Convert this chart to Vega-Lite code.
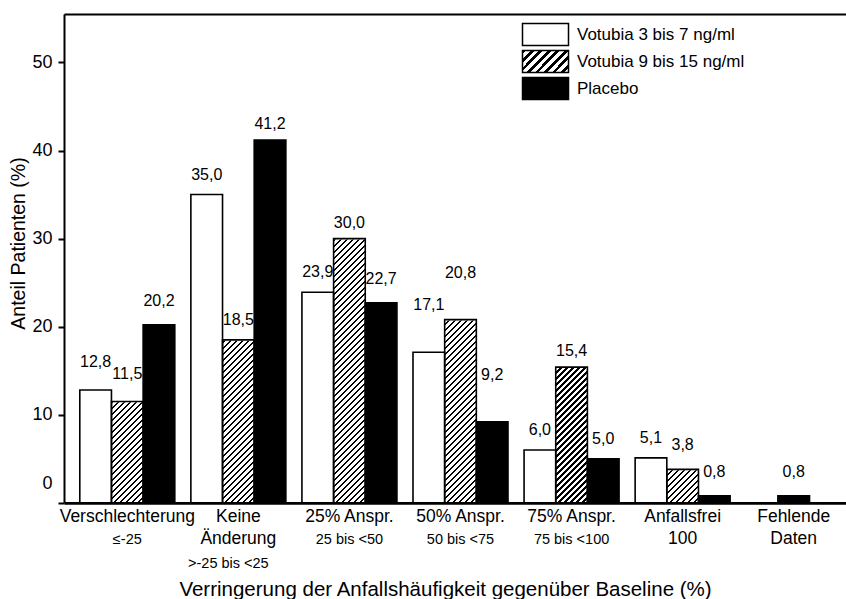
{
  "$schema": "https://vega.github.io/schema/vega-lite/v6.json",
  "width": 782,
  "height": 488.8,
  "autosize": "none",
  "padding": {"left": 64, "top": 14, "right": 0, "bottom": 96.2},
  "background": "white",
  "config": {
    "view": {"stroke": null},
    "locale": {"number": {"decimal": ",", "thousands": ".", "grouping": [3], "currency": ["", " €"]}},
    "axis": {"labelFont": "Liberation Sans", "titleFont": "Liberation Sans", "labelColor": "black", "titleColor": "black", "domainColor": "black", "tickColor": "black", "grid": false},
    "legend": {"labelFont": "Liberation Sans", "labelColor": "black"}
  },
  "data": {"values": [
    {"cat": "Verschlechterung", "series": "Votubia 3 bis 7 ng/ml", "value": 12.8},
    {"cat": "Verschlechterung", "series": "Votubia 9 bis 15 ng/ml", "value": 11.5},
    {"cat": "Verschlechterung", "series": "Placebo", "value": 20.2},
    {"cat": "Keine Änderung", "series": "Votubia 3 bis 7 ng/ml", "value": 35.0},
    {"cat": "Keine Änderung", "series": "Votubia 9 bis 15 ng/ml", "value": 18.5},
    {"cat": "Keine Änderung", "series": "Placebo", "value": 41.2},
    {"cat": "25% Anspr.", "series": "Votubia 3 bis 7 ng/ml", "value": 23.9},
    {"cat": "25% Anspr.", "series": "Votubia 9 bis 15 ng/ml", "value": 30.0},
    {"cat": "25% Anspr.", "series": "Placebo", "value": 22.7},
    {"cat": "50% Anspr.", "series": "Votubia 3 bis 7 ng/ml", "value": 17.1},
    {"cat": "50% Anspr.", "series": "Votubia 9 bis 15 ng/ml", "value": 20.8},
    {"cat": "50% Anspr.", "series": "Placebo", "value": 9.2},
    {"cat": "75% Anspr.", "series": "Votubia 3 bis 7 ng/ml", "value": 6.0},
    {"cat": "75% Anspr.", "series": "Votubia 9 bis 15 ng/ml", "value": 15.4},
    {"cat": "75% Anspr.", "series": "Placebo", "value": 5.0},
    {"cat": "Anfallsfrei 100", "series": "Votubia 3 bis 7 ng/ml", "value": 5.1},
    {"cat": "Anfallsfrei 100", "series": "Votubia 9 bis 15 ng/ml", "value": 3.8},
    {"cat": "Anfallsfrei 100", "series": "Placebo", "value": 0.8},
    {"cat": "Fehlende Daten", "series": "Placebo", "value": 0.8}
  ]},
  "resolve": {"scale": {"x": "shared", "y": "shared"}, "axis": {"x": "independent", "y": "independent"}},
  "encoding": {
    "x": {"field": "cat", "type": "nominal", "scale": {"domain": ["Verschlechterung", "Keine Änderung", "25% Anspr.", "50% Anspr.", "75% Anspr.", "Anfallsfrei 100", "Fehlende Daten"], "paddingInner": 0.1447, "paddingOuter": 0.0927, "align": 0.767}, "axis": null},
    "y": {"field": "value", "type": "quantitative", "scale": {"domain": [0, 55.5], "nice": false, "zero": true}, "axis": null}
  },
  "layer": [
    {
      "transform": [{"filter": "datum.series === 'Votubia 9 bis 15 ng/ml'"}],
      "mark": {"type": "bar", "strokeWidth": 0, "fill": {"gradient": "linear", "x1": 0, "y1": 0, "x2": 0.12987, "y2": 1.1016, "stops": [
        {"offset":0,"color":"#000"},{"offset":0.007,"color":"#000"},{"offset":0.007,"color":"#fff"},{"offset":0.02,"color":"#fff"},
        {"offset":0.02,"color":"#000"},{"offset":0.027,"color":"#000"},{"offset":0.027,"color":"#fff"},{"offset":0.04,"color":"#fff"},
        {"offset":0.04,"color":"#000"},{"offset":0.047,"color":"#000"},{"offset":0.047,"color":"#fff"},{"offset":0.06,"color":"#fff"},
        {"offset":0.06,"color":"#000"},{"offset":0.067,"color":"#000"},{"offset":0.067,"color":"#fff"},{"offset":0.08,"color":"#fff"},
        {"offset":0.08,"color":"#000"},{"offset":0.087,"color":"#000"},{"offset":0.087,"color":"#fff"},{"offset":0.1,"color":"#fff"},
        {"offset":0.1,"color":"#000"},{"offset":0.107,"color":"#000"},{"offset":0.107,"color":"#fff"},{"offset":0.12,"color":"#fff"},
        {"offset":0.12,"color":"#000"},{"offset":0.127,"color":"#000"},{"offset":0.127,"color":"#fff"},{"offset":0.14,"color":"#fff"},
        {"offset":0.14,"color":"#000"},{"offset":0.147,"color":"#000"},{"offset":0.147,"color":"#fff"},{"offset":0.16,"color":"#fff"},
        {"offset":0.16,"color":"#000"},{"offset":0.167,"color":"#000"},{"offset":0.167,"color":"#fff"},{"offset":0.18,"color":"#fff"},
        {"offset":0.18,"color":"#000"},{"offset":0.187,"color":"#000"},{"offset":0.187,"color":"#fff"},{"offset":0.2,"color":"#fff"},
        {"offset":0.2,"color":"#000"},{"offset":0.207,"color":"#000"},{"offset":0.207,"color":"#fff"},{"offset":0.22,"color":"#fff"},
        {"offset":0.22,"color":"#000"},{"offset":0.227,"color":"#000"},{"offset":0.227,"color":"#fff"},{"offset":0.24,"color":"#fff"},
        {"offset":0.24,"color":"#000"},{"offset":0.247,"color":"#000"},{"offset":0.247,"color":"#fff"},{"offset":0.26,"color":"#fff"},
        {"offset":0.26,"color":"#000"},{"offset":0.267,"color":"#000"},{"offset":0.267,"color":"#fff"},{"offset":0.28,"color":"#fff"},
        {"offset":0.28,"color":"#000"},{"offset":0.287,"color":"#000"},{"offset":0.287,"color":"#fff"},{"offset":0.3,"color":"#fff"},
        {"offset":0.3,"color":"#000"},{"offset":0.307,"color":"#000"},{"offset":0.307,"color":"#fff"},{"offset":0.32,"color":"#fff"},
        {"offset":0.32,"color":"#000"},{"offset":0.327,"color":"#000"},{"offset":0.327,"color":"#fff"},{"offset":0.34,"color":"#fff"},
        {"offset":0.34,"color":"#000"},{"offset":0.347,"color":"#000"},{"offset":0.347,"color":"#fff"},{"offset":0.36,"color":"#fff"},
        {"offset":0.36,"color":"#000"},{"offset":0.367,"color":"#000"},{"offset":0.367,"color":"#fff"},{"offset":0.38,"color":"#fff"},
        {"offset":0.38,"color":"#000"},{"offset":0.387,"color":"#000"},{"offset":0.387,"color":"#fff"},{"offset":0.4,"color":"#fff"},
        {"offset":0.4,"color":"#000"},{"offset":0.407,"color":"#000"},{"offset":0.407,"color":"#fff"},{"offset":0.42,"color":"#fff"},
        {"offset":0.42,"color":"#000"},{"offset":0.427,"color":"#000"},{"offset":0.427,"color":"#fff"},{"offset":0.44,"color":"#fff"},
        {"offset":0.44,"color":"#000"},{"offset":0.447,"color":"#000"},{"offset":0.447,"color":"#fff"},{"offset":0.46,"color":"#fff"},
        {"offset":0.46,"color":"#000"},{"offset":0.467,"color":"#000"},{"offset":0.467,"color":"#fff"},{"offset":0.48,"color":"#fff"},
        {"offset":0.48,"color":"#000"},{"offset":0.487,"color":"#000"},{"offset":0.487,"color":"#fff"},{"offset":0.5,"color":"#fff"},
        {"offset":0.5,"color":"#000"},{"offset":0.507,"color":"#000"},{"offset":0.507,"color":"#fff"},{"offset":0.52,"color":"#fff"},
        {"offset":0.52,"color":"#000"},{"offset":0.527,"color":"#000"},{"offset":0.527,"color":"#fff"},{"offset":0.54,"color":"#fff"},
        {"offset":0.54,"color":"#000"},{"offset":0.547,"color":"#000"},{"offset":0.547,"color":"#fff"},{"offset":0.56,"color":"#fff"},
        {"offset":0.56,"color":"#000"},{"offset":0.567,"color":"#000"},{"offset":0.567,"color":"#fff"},{"offset":0.58,"color":"#fff"},
        {"offset":0.58,"color":"#000"},{"offset":0.587,"color":"#000"},{"offset":0.587,"color":"#fff"},{"offset":0.6,"color":"#fff"},
        {"offset":0.6,"color":"#000"},{"offset":0.607,"color":"#000"},{"offset":0.607,"color":"#fff"},{"offset":0.62,"color":"#fff"},
        {"offset":0.62,"color":"#000"},{"offset":0.627,"color":"#000"},{"offset":0.627,"color":"#fff"},{"offset":0.64,"color":"#fff"},
        {"offset":0.64,"color":"#000"},{"offset":0.647,"color":"#000"},{"offset":0.647,"color":"#fff"},{"offset":0.66,"color":"#fff"},
        {"offset":0.66,"color":"#000"},{"offset":0.667,"color":"#000"},{"offset":0.667,"color":"#fff"},{"offset":0.68,"color":"#fff"},
        {"offset":0.68,"color":"#000"},{"offset":0.687,"color":"#000"},{"offset":0.687,"color":"#fff"},{"offset":0.7,"color":"#fff"},
        {"offset":0.7,"color":"#000"},{"offset":0.707,"color":"#000"},{"offset":0.707,"color":"#fff"},{"offset":0.72,"color":"#fff"},
        {"offset":0.72,"color":"#000"},{"offset":0.727,"color":"#000"},{"offset":0.727,"color":"#fff"},{"offset":0.74,"color":"#fff"},
        {"offset":0.74,"color":"#000"},{"offset":0.747,"color":"#000"},{"offset":0.747,"color":"#fff"},{"offset":0.76,"color":"#fff"},
        {"offset":0.76,"color":"#000"},{"offset":0.767,"color":"#000"},{"offset":0.767,"color":"#fff"},{"offset":0.78,"color":"#fff"},
        {"offset":0.78,"color":"#000"},{"offset":0.787,"color":"#000"},{"offset":0.787,"color":"#fff"},{"offset":0.8,"color":"#fff"},
        {"offset":0.8,"color":"#000"},{"offset":0.807,"color":"#000"},{"offset":0.807,"color":"#fff"},{"offset":0.82,"color":"#fff"},
        {"offset":0.82,"color":"#000"},{"offset":0.827,"color":"#000"},{"offset":0.827,"color":"#fff"},{"offset":0.84,"color":"#fff"},
        {"offset":0.84,"color":"#000"},{"offset":0.847,"color":"#000"},{"offset":0.847,"color":"#fff"},{"offset":0.86,"color":"#fff"},
        {"offset":0.86,"color":"#000"},{"offset":0.867,"color":"#000"},{"offset":0.867,"color":"#fff"},{"offset":0.88,"color":"#fff"},
        {"offset":0.88,"color":"#000"},{"offset":0.887,"color":"#000"},{"offset":0.887,"color":"#fff"},{"offset":0.9,"color":"#fff"},
        {"offset":0.9,"color":"#000"},{"offset":0.907,"color":"#000"},{"offset":0.907,"color":"#fff"},{"offset":0.92,"color":"#fff"},
        {"offset":0.92,"color":"#000"},{"offset":0.927,"color":"#000"},{"offset":0.927,"color":"#fff"},{"offset":0.94,"color":"#fff"},
        {"offset":0.94,"color":"#000"},{"offset":0.947,"color":"#000"},{"offset":0.947,"color":"#fff"},{"offset":0.96,"color":"#fff"},
        {"offset":0.96,"color":"#000"},{"offset":0.967,"color":"#000"},{"offset":0.967,"color":"#fff"},{"offset":0.98,"color":"#fff"},
        {"offset":0.98,"color":"#000"},{"offset":0.987,"color":"#000"},{"offset":0.987,"color":"#fff"},{"offset":1,"color":"#fff"}
      ]}},
      "encoding": {
        "x": {"field": "cat", "type": "nominal", "axis": {"orient": "bottom", "title": null, "domain": false, "ticks": false, "tickSize": 0, "labelAngle": 0, "labelOverlap": false, "labelLimit": 300, "labelFontSize": 14.5,
          "labelExpr": "datum.value === 'Verschlechterung' ? '≤-25' : datum.value === 'Keine Änderung' ? '>-25 bis <25' : datum.value === '25% Anspr.' ? '25 bis <50' : datum.value === '50% Anspr.' ? '50 bis <75' : datum.value === '75% Anspr.' ? '75 bis <100' : ''",
          "labelPadding": {"condition": {"test": "datum.value === 'Keine Änderung'", "value": 54}, "value": 29.5},
          "labelOffset": {"condition": {"test": "datum.value === 'Keine Änderung'", "value": -10}, "value": 0}}},
        "xOffset": {"field": "series", "type": "nominal", "scale": {"domain": ["Votubia 3 bis 7 ng/ml", "Votubia 9 bis 15 ng/ml", "Placebo"], "paddingInner": 0, "paddingOuter": 0}},
        "y": {"datum": 30.5, "type": "quantitative", "scale": {"domain": [0, 55.5], "nice": false, "zero": true}, "axis": null},
        "y2": {"datum": 0}
      }
    },
    {
      "transform": [{"filter": "datum.series === 'Votubia 9 bis 15 ng/ml'"}],
      "mark": {"type": "bar", "fill": "white", "stroke": "white", "strokeWidth": 1.6},
      "encoding": {
        "x": {"field": "cat", "type": "nominal", "axis": {"orient": "top", "title": null, "labels": false, "ticks": false, "domain": true, "domainWidth": 2, "domainColor": "black"}},
        "xOffset": {"field": "series", "type": "nominal", "scale": {"domain": ["Votubia 3 bis 7 ng/ml", "Votubia 9 bis 15 ng/ml", "Placebo"], "paddingInner": 0, "paddingOuter": 0}},
        "y2": {"datum": 30.5}
      }
    },
    {
      "transform": [{"filter": "datum.cat !== 'Fehlende Daten'"}],
      "mark": {"type": "bar", "stroke": "black", "strokeWidth": 1.6},
      "encoding": {
        "x": {"field": "cat", "type": "nominal", "axis": {"orient": "bottom", "domain": true, "domainWidth": 2.7, "ticks": false, "tickSize": 0, "labelAngle": 0, "labelOverlap": false, "labelLimit": 300, "labelFontSize": 17.5, "labelLineHeight": 21.6, "labelPadding": 5,
          "labelExpr": "datum.value === 'Keine Änderung' ? ['Keine', 'Änderung'] : datum.value === 'Anfallsfrei 100' ? ['Anfallsfrei', '100'] : datum.value === 'Fehlende Daten' ? ['Fehlende', 'Daten'] : datum.value",
          "title": "Verringerung der Anfallshäufigkeit gegenüber Baseline (%)", "titleFontSize": 20.5, "titleFontWeight": "normal", "titleX": 381, "titleY": 93, "titleBaseline": "alphabetic"}},
        "xOffset": {"field": "series", "type": "nominal", "scale": {"domain": ["Votubia 3 bis 7 ng/ml", "Votubia 9 bis 15 ng/ml", "Placebo"], "paddingInner": 0, "paddingOuter": 0}},
        "y": {"field": "value", "type": "quantitative", "scale": {"domain": [0, 55.5], "nice": false, "zero": true},
          "axis": {"values": [0, 10, 20, 30, 40, 50], "title": "Anteil Patienten (%)", "titleFontSize": 19.5, "titleFontWeight": "normal", "titleX": -40, "titleY": 229, "titleBaseline": "alphabetic", "titleAngle": -90, "titleAlign": "center", "titleLimit": 400,
            "labelFontSize": 18, "labelPadding": 6, "tickSize": 6, "tickWidth": 2, "domainWidth": 2, "grid": false,
            "labelOffset": {"condition": {"test": "datum.value === 0", "value": -19}, "value": 0}}},
        "fill": {"condition": [
          {"test": "datum.series === 'Placebo'", "value": "black"},
          {"test": "datum.series === 'Votubia 9 bis 15 ng/ml'", "value": "transparent"}
        ], "value": "white"}
      }
    },
    {
      "transform": [{"filter": "datum.cat === 'Fehlende Daten'"}],
      "mark": {"type": "bar", "width": {"band": 0.3333}, "fill": "black", "stroke": "black", "strokeWidth": 1.6}
    },
    {
      "transform": [{"filter": "indexof([41.2, 30, 15.4], datum.value) >= 0"}],
      "mark": {"type": "text", "font": "Liberation Sans", "fontSize": 16, "baseline": "middle", "dy": -16, "color": "black"},
      "encoding": {
        "xOffset": {"field": "series", "type": "nominal", "scale": {"domain": ["Votubia 3 bis 7 ng/ml", "Votubia 9 bis 15 ng/ml", "Placebo"], "paddingInner": 0, "paddingOuter": 0}},
        "text": {"field": "value", "type": "quantitative", "format": ".1f"}
      }
    },
    {
      "transform": [{"filter": "indexof([35, 18.5, 23.9, 6, 5, 5.1], datum.value) >= 0"}],
      "mark": {"type": "text", "font": "Liberation Sans", "fontSize": 16, "baseline": "middle", "dy": -20, "color": "black"},
      "encoding": {
        "xOffset": {"field": "series", "type": "nominal", "scale": {"domain": ["Votubia 3 bis 7 ng/ml", "Votubia 9 bis 15 ng/ml", "Placebo"], "paddingInner": 0, "paddingOuter": 0}},
        "text": {"field": "value", "type": "quantitative", "format": ".1f"}
      }
    },
    {
      "transform": [{"filter": "indexof([22.7, 3.8, 20.2, 0.8], datum.value) >= 0 && datum.cat !== 'Fehlende Daten'"}],
      "mark": {"type": "text", "font": "Liberation Sans", "fontSize": 16, "baseline": "middle", "dy": -24, "color": "black"},
      "encoding": {
        "xOffset": {"field": "series", "type": "nominal", "scale": {"domain": ["Votubia 3 bis 7 ng/ml", "Votubia 9 bis 15 ng/ml", "Placebo"], "paddingInner": 0, "paddingOuter": 0}},
        "text": {"field": "value", "type": "quantitative", "format": ".1f"}
      }
    },
    {
      "transform": [{"filter": "indexof([12.8, 11.5], datum.value) >= 0"}],
      "mark": {"type": "text", "font": "Liberation Sans", "fontSize": 16, "baseline": "middle", "dy": -28, "color": "black"},
      "encoding": {
        "xOffset": {"field": "series", "type": "nominal", "scale": {"domain": ["Votubia 3 bis 7 ng/ml", "Votubia 9 bis 15 ng/ml", "Placebo"], "paddingInner": 0, "paddingOuter": 0}},
        "text": {"field": "value", "type": "quantitative", "format": ".1f"}
      }
    },
    {
      "transform": [{"filter": "indexof([17.1, 20.8, 9.2], datum.value) >= 0"}],
      "mark": {"type": "text", "font": "Liberation Sans", "fontSize": 16, "baseline": "middle", "dy": -47, "color": "black"},
      "encoding": {
        "xOffset": {"field": "series", "type": "nominal", "scale": {"domain": ["Votubia 3 bis 7 ng/ml", "Votubia 9 bis 15 ng/ml", "Placebo"], "paddingInner": 0, "paddingOuter": 0}},
        "text": {"field": "value", "type": "quantitative", "format": ".1f"}
      }
    },
    {
      "transform": [{"filter": "datum.cat === 'Fehlende Daten'"}],
      "mark": {"type": "text", "font": "Liberation Sans", "fontSize": 16, "baseline": "middle", "dy": -24, "color": "black"},
      "encoding": {
        "text": {"field": "value", "type": "quantitative", "format": ".1f"}
      }
    },
    {
      "mark": {"type": "bar", "stroke": "black", "strokeWidth": 1.5},
      "encoding": {
        "y": {"datum": 0, "type": "quantitative", "scale": {"domain": [0, 55.5], "nice": false, "zero": true}, "axis": null},
        "y2": {"datum": 0},
        "fill": {"field": "series", "type": "nominal",
          "scale": {"domain": ["Votubia 3 bis 7 ng/ml", "Votubia 9 bis 15 ng/ml", "Placebo"], "range": ["white", {"expr": "{gradient: 'linear', x1: 0, y1: 0, x2: 1.203, y2: 0.5754, stops: [{offset: 0, color: '#000'}, {offset: 0.055, color: '#000'}, {offset: 0.055, color: '#fff'}, {offset: 0.125, color: '#fff'}, {offset: 0.125, color: '#000'}, {offset: 0.18, color: '#000'}, {offset: 0.18, color: '#fff'}, {offset: 0.25, color: '#fff'}, {offset: 0.25, color: '#000'}, {offset: 0.305, color: '#000'}, {offset: 0.305, color: '#fff'}, {offset: 0.375, color: '#fff'}, {offset: 0.375, color: '#000'}, {offset: 0.43, color: '#000'}, {offset: 0.43, color: '#fff'}, {offset: 0.5, color: '#fff'}, {offset: 0.5, color: '#000'}, {offset: 0.555, color: '#000'}, {offset: 0.555, color: '#fff'}, {offset: 0.625, color: '#fff'}, {offset: 0.625, color: '#000'}, {offset: 0.68, color: '#000'}, {offset: 0.68, color: '#fff'}, {offset: 0.75, color: '#fff'}, {offset: 0.75, color: '#000'}, {offset: 0.805, color: '#000'}, {offset: 0.805, color: '#fff'}, {offset: 0.875, color: '#fff'}, {offset: 0.875, color: '#000'}, {offset: 0.93, color: '#000'}, {offset: 0.93, color: '#fff'}, {offset: 1, color: '#fff'}]}"}, "black"]},
          "legend": {"orient": "none", "legendX": 469, "legendY": 8, "title": null, "padding": 0, "symbolType": "M-2,-0.957H2V0.957H-2Z", "symbolSize": 529, "symbolStrokeWidth": 1.5, "symbolStrokeColor": "black", "labelFontSize": 17, "labelOffset": 19, "rowPadding": -3, "labelLimit": 300,
            "labelExpr": "datum.label === 'Placebo' ? '\u00a0Placebo' : datum.label"}
        }
      }
    }
  ]
}
